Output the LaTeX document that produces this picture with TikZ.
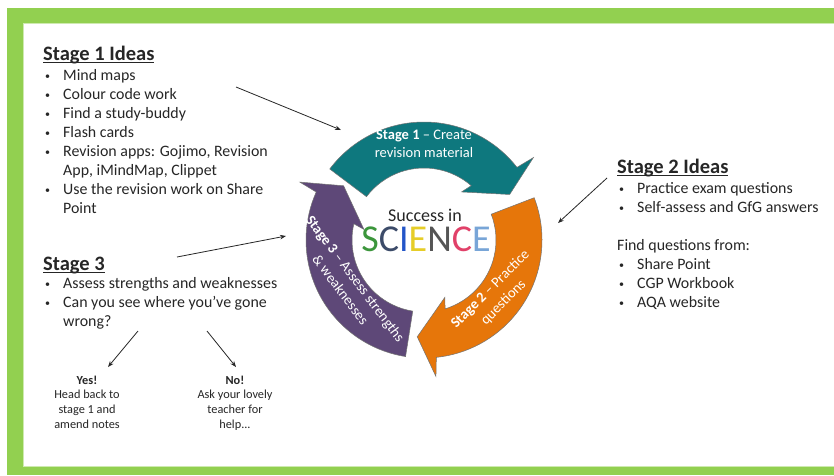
\documentclass[tikz,border=0pt]{standalone}
\usepackage{fontspec}
\setmainfont{Carlito}
\usetikzlibrary{arrows.meta,calc}
\definecolor{framegreen}{HTML}{92D050}
\definecolor{cycteal}{RGB}{14,120,126}
\definecolor{cycorange}{RGB}{230,118,10}
\definecolor{cycpurple}{RGB}{94,72,120}
\definecolor{inktext}{RGB}{38,38,38}
\newsavebox{\headbox}
\newcommand{\headline}[1]{\sbox{\headbox}{#1}\rlap{\rule[-2.8pt]{\wd\headbox}{1.3pt}}\usebox{\headbox}}
\newcommand{\bul}{\makebox[0pt][r]{\raisebox{1pt}{\fontsize{10}{10}\selectfont\textbullet}\hspace{13pt}}}
\tikzset{
    every node/.style={inner sep=0pt, text=inktext},
    heading/.style={font=\fontsize{20.5}{24}\selectfont\bfseries, anchor=base west},
    body/.style={font=\fontsize{15.9}{19}\selectfont, anchor=base west},
    small/.style={font=\fontsize{12.3}{14.6}\selectfont, anchor=base, align=center},
    arctext/.style={font=\fontsize{14.5}{18.5}\selectfont, text=white, align=center},
    pointer/.style={-{Stealth[length=6pt,width=4.5pt]}, line width=0.8pt, draw=inktext}
}

\begin{document}
\begin{tikzpicture}[x=1pt,y=-1pt]
    \useasboundingbox (0,0) rectangle (834,475);
    % frame
    \fill[white] (0,0) rectangle (834,475);
    \fill[framegreen] (7,8) rectangle (834,475);
    \filldraw[fill=white, draw=framegreen!45, line width=1pt] (23,23) rectangle (836,466);

    % cycle of three arrows
    \coordinate (cyc) at (424,240);
    \foreach \tip/\col in {28/cycteal,-94/cycorange,146/cycpurple}{
        \pgfmathsetmacro\tail{\tip+115}
        \filldraw[fill=\col, draw=black!55, line width=0.5pt]
            ($(cyc)+(\tail:118pt)$) arc[start angle=\tail, end angle=\tip+10, radius=118pt]
            -- ($(cyc)+(\tip+9:137pt)$) -- ($(cyc)+(\tip:97pt)$) -- ($(cyc)+(\tip+24:61pt)$)
            -- ($(cyc)+(\tip+21:72pt)$) arc[start angle=\tip+21, end angle=\tail, radius=72pt] -- cycle;
    }
    \node[arctext] (t1) at (424,144) {\textbf{Stage 1} – Create\\revision material};
    \node[arctext, rotate=45] (t2) at (497,296) {\textbf{Stage 2} – Practice\\questions};
    \node[arctext, rotate=-53] (t3) at (348,284) {\textbf{Stage 3} – Assess strengths\\\& weaknesses};

    \node[font=\fontsize{18}{20}\selectfont] (success) at (425,215) {Success in};
    \node[font=\fontsize{38}{40}\selectfont] (science) at (426,239)
        {\textcolor[RGB]{60,150,60}{S}\textcolor[RGB]{60,75,105}{C}\textcolor[RGB]{35,85,200}{I}\textcolor[RGB]{230,205,40}{E}\textcolor[RGB]{85,85,85}{N}\textcolor[RGB]{225,65,105}{C}\textcolor[RGB]{120,165,215}{E}};

    % stage 1 ideas
    \node[heading] (s1head) at (43,60) {\headline{Stage 1 Ideas}};
    \foreach \line [count=\i from 0] in {{\bul Mind maps},{\bul Colour code work},{\bul Find a study-buddy},{\bul Flash cards},{\bul Revision apps: Gojimo, Revision},{App, iMindMap, Clippet},{\bul Use the revision work on Share},{Point}}
        \node[body] (s1-\i) at (63,80+19*\i) {\line};

    % stage 2 ideas
    \node[heading] (s2head) at (617,173) {\headline{Stage 2 Ideas}};
    \node[body] (s2-0) at (637,193) {\bul Practice exam questions};
    \node[body] (s2-1) at (637,212) {\bul Self-assess and GfG answers};
    \node[body] (s2find) at (617,250) {Find questions from:};
    \foreach \line [count=\i from 0] in {Share Point,CGP Workbook,AQA website}
        \node[body] (s2q-\i) at (637,269+19*\i) {\bul \line};

    % stage 3
    \node[heading] (s3head) at (43,270) {\headline{Stage 3}};
    \foreach \line [count=\i from 0] in {{\bul Assess strengths and weaknesses},{\bul Can you see where you’ve gone},{wrong?}}
        \node[body] (s3-\i) at (63,288+19*\i) {\line};
    \node[small] (yes) at (87,428) {\textbf{Yes!}\\Head back to\\stage 1 and\\amend notes};
    \node[small] (no) at (235,428) {\textbf{No!}\\Ask your lovely\\teacher for\\help...};

    % pointers
    \coordinate (p1a) at (236,87);  \coordinate (p1b) at (341,130);
    \coordinate (p2a) at (607,178); \coordinate (p2b) at (558,223);
    \coordinate (p3a) at (177,257); \coordinate (p3b) at (286,236);
    \coordinate (pya) at (138,331); \coordinate (pyb) at (108,367);
    \coordinate (pna) at (207,331); \coordinate (pnb) at (236,367);
    \draw[pointer] (p1a) -- (p1b);
    \draw[pointer] (p2a) -- (p2b);
    \draw[pointer] (p3a) -- (p3b);
    \draw[pointer] (pya) -- (pyb);
    \draw[pointer] (pna) -- (pnb);
\end{tikzpicture}
\end{document}
